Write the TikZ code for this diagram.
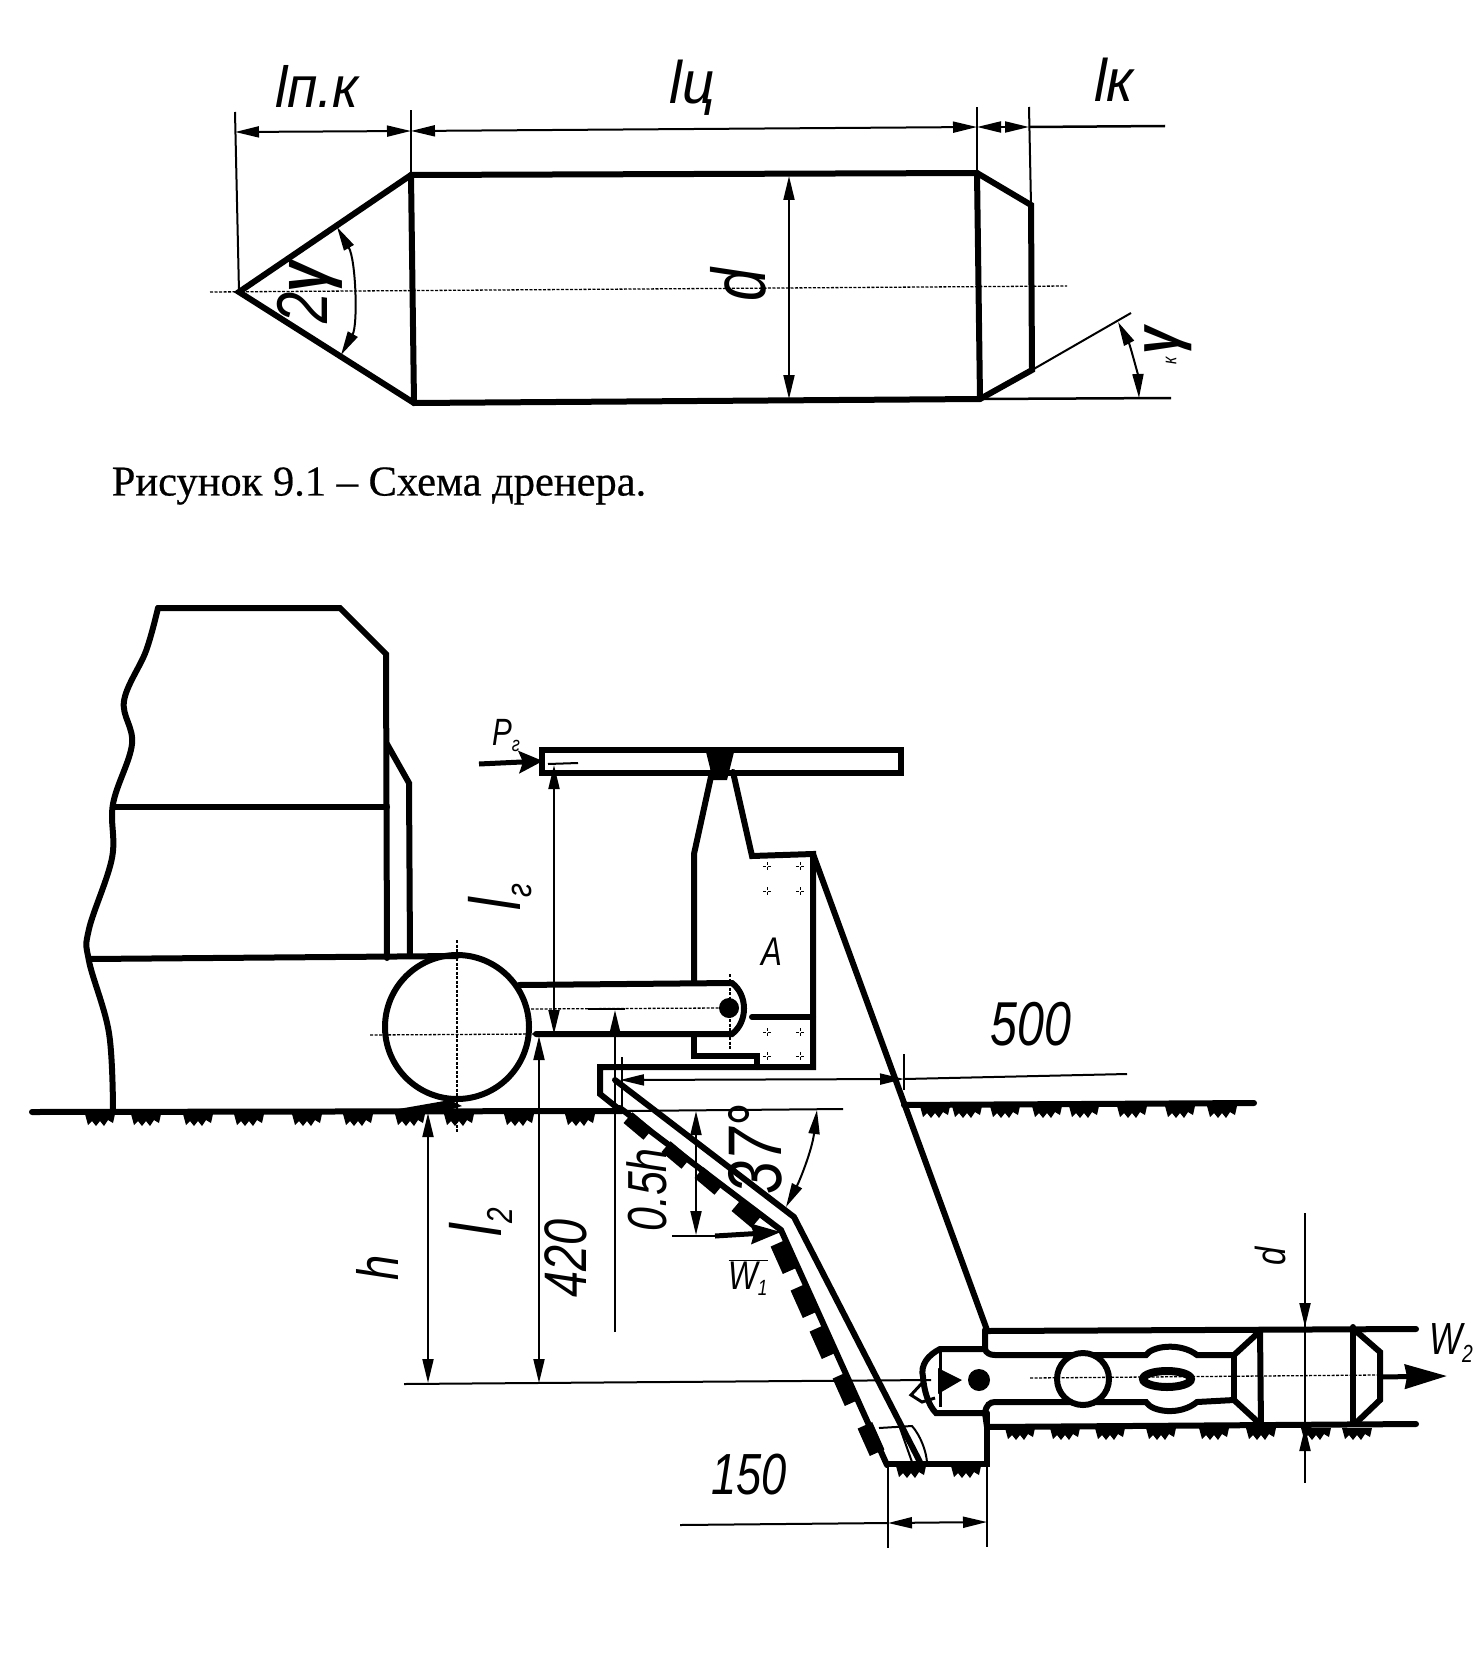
\documentclass[tikz,border=0pt]{standalone}
\usepackage{fontspec}
\usetikzlibrary{arrows.meta}
\setmainfont{Liberation Serif}
\newfontfamily\dfont[FakeStretch=0.78]{Liberation Sans}
\newfontfamily\wfont[FakeStretch=0.95]{Liberation Sans}
\newfontfamily\captfont[FakeBold=0.5]{Liberation Serif}
\newcommand{\lowtxt}[2][.55]{\raisebox{-.3ex}{\scalebox{#1}{#2}}}
\tikzset{
  heavy/.style={line width=6pt,line join=miter,line cap=round},
  thinline/.style={line width=2pt},
  axisline/.style={line width=1.3pt,dash pattern=on 3pt off 1.5pt},
  dimline/.style={thinline,{Stealth[length=24pt,width=11pt,inset=0pt]}-{Stealth[length=24pt,width=11pt,inset=0pt]}},
  dimhead/.style={thinline,-{Stealth[length=24pt,width=11pt,inset=0pt]}},
  label/.style={inner sep=0pt,font=\fontsize{#1}{#1}\selectfont\dfont\itshape},
  widelabel/.style={inner sep=0pt,font=\fontsize{#1}{#1}\selectfont\wfont\itshape},
  tuft/.pic={\fill (-15,-1) -- (15,-1) -- (13,8) -- (8,5) -- (4,11) -- (0,6) -- (-4,11) -- (-8,6) -- (-12,10) -- cycle;},
}
\begin{document}
\begin{tikzpicture}[x=1pt,y=-1pt]
  \useasboundingbox[fill=white] (0,0) rectangle (1472,1672);

  % drainer
  \coordinate (tip) at (239,292);
  \coordinate (bodyTL) at (411,175);
  \coordinate (bodyBL) at (414,403);
  \coordinate (bodyTR) at (977,173);
  \coordinate (bodyBR) at (980,399);
  \coordinate (endT) at (1031,205);
  \coordinate (endB) at (1032,370);
  \draw[axisline] (210,292) -- (1067,286);
  \draw[heavy] (tip) -- (bodyTL) -- (bodyTR) -- (endT) -- (endB) -- (bodyBR) -- (bodyBL) -- cycle;
  \draw[heavy] (bodyTL) -- (bodyBL);
  \draw[heavy] (bodyTR) -- (bodyBR);
  \draw[thinline] (tip) -- (235,112);
  \draw[thinline] (bodyTL) -- (411,110);
  \draw[thinline] (bodyTR) -- (977,107);
  \draw[thinline] (endT) -- (1029,107);
  \draw[dimline] (235,132) -- (411,131);
  \draw[dimline] (411,131) -- (977,127);
  \draw[dimline] (977,127) -- (1029,127);
  \draw[line width=2.5pt] (1029,127) -- (1165,126);
  \draw[dimline] (789,176) -- (789,399);
  \draw[dimline] (337,227) .. controls (356,260) and (358,325) .. (341,355);
  \draw[thinline] (endB) -- (1131,313);
  \draw[line width=2.5pt] (bodyBR) -- (1171,398);
  \draw[dimline] (1118,322) .. controls (1130,345) and (1138,375) .. (1139,398);

  \node[widelabel=58] (lpk) at (317,86) {lп.к};
  \node[widelabel=60] (lc) at (692,88) {lц};
  \node[widelabel=60] (lkk) at (1114,80) {lк};
  \node[label=72,rotate=90] (ang2g) at (310,292) {2\textbf{γ}};
  \node[label=76,rotate=90] (dtop) at (738,285) {d};
  \node[label=64,rotate=90] (angk) at (1168,341) {\textbf{γ}};
  \node[label=20,rotate=90] (angksub) at (1171,361) {к};
  \node[inner sep=0pt,font=\fontsize{42.5}{42.5}\selectfont\captfont] (capt) at (379,486) {Рисунок 9.1 – Схема дренера.};

  % tractor
  \draw[heavy] plot[smooth,tension=.6] coordinates {(158,608) (146,651) (124,701) (132,744) (113,804) (112,858) (89,929) (89,961) (109,1033) (113,1112)};
  \draw[heavy] (158,608) -- (340,608) -- (386,654) -- (387,958);
  \draw[heavy] (113,807) -- (387,807);
  \draw[heavy] (387,744) -- (409,783) -- (410,956);
  \draw[heavy] (89,959) -- (457,956);
  \draw[heavy] (457,1027) circle (72);
  \draw[axisline] (457,940) -- (457,1133);
  \draw[axisline] (370,1035) -- (536,1034);

  % arm and frame
  \draw[heavy] (519,985) -- (732,983) .. controls (748,995) and (748,1022) .. (732,1034) -- (536,1034);
  \fill (729,1008) circle (10);
  \draw[axisline] (531,1009) -- (720,1008);
  \draw[axisline] (730,974) -- (730,1049);
  \draw[heavy] (542,750) rectangle (901,773);
  \fill (706,752) -- (734,752) -- (727,780) -- (713,780) -- cycle;
  \draw[heavy] (712,772) -- (694,854) -- (694,981);
  \draw[heavy] (733,772) -- (752,856) -- (813,854) -- (813,1067) -- (600,1067) -- (600,1094) -- (620,1110);
  \draw[heavy] (813,854) -- (987,1330);
  \draw[heavy] (752,1017) -- (813,1017);
  \draw[heavy] (694,1035) -- (694,1056) -- (757,1056) -- (757,1067);
  \foreach \x in {767,800}
    \foreach \y in {866,891,1032,1056}
      \draw[axisline,line width=1pt] (\x-4,\y) -- (\x+4,\y) (\x,\y-4) -- (\x,\y+4);

  % ground
  \draw[heavy] (32,1112) -- (622,1111);
  \draw[thinline] (622,1111) -- (843,1109);
  \draw[heavy] (904,1105) -- (1254,1103);
  \fill (387,1111) -- (450,1100) -- (462,1106) -- (440,1113) -- cycle;
  \foreach \x in {100,146,198,249,307,358,410,459,519,580}
    \pic at (\x,1115) {tuft};
  \foreach \x in {935,967,1005,1047,1084,1132,1180,1222}
    \pic at (\x,1107) {tuft};
  \foreach \x in {911,966}
    \pic at (\x,1467) {tuft};
  \foreach \x in {1020,1065,1110,1161,1214,1261,1316,1357}
    \pic at (\x,1429) {tuft};

  % plough
  \draw[heavy] (615,1080) -- (794,1217) -- (920,1462);
  \draw[heavy] (620,1108) -- (781,1230) -- (887,1465);
  \draw[heavy] (887,1464) -- (987,1464) -- (987,1413);
  \foreach \x/\y/\a in {638/1126/-40,676/1155/-40,709/1181/-40,746/1214/-40}
    \fill[shift={(\x,\y)},rotate=\a] (-13,-7) rectangle (13,7);
  \foreach \x/\y in {784/1257,804/1301,823/1342,846/1389,871/1439}
    \fill[shift={(\x,\y)},rotate=-66] (-15,-8) rectangle (15,8);
  \draw[thinline] (879,1428) -- (912,1426) .. controls (920,1435) and (926,1450) .. (927,1462);
  \draw[thinline] (900,1428) -- (912,1462);

  % drain pipe and drainer in the trench
  \draw[heavy] (985,1330) -- (985,1349) -- (940,1349) .. controls (928,1355) and (920,1365) .. (923,1377) .. controls (924,1390) and (928,1405) .. (936,1413) -- (985,1413) -- (987,1427);
  \draw[heavy] (987,1331) -- (1416,1329);
  \draw[heavy] (987,1427) -- (1416,1424);
  \draw[heavy] (985,1349) .. controls (986,1353) and (990,1355) .. (995,1355) -- (1146,1355) .. controls (1152,1346) and (1180,1342) .. (1197,1355) -- (1234,1355) -- (1259,1332);
  \draw[heavy] (985,1413) .. controls (986,1405) and (990,1402) .. (995,1402) -- (1146,1402) .. controls (1152,1412) and (1180,1416) .. (1197,1402) -- (1234,1400) -- (1259,1423);
  \draw[heavy] (1234,1355) -- (1234,1400);
  \draw[heavy] (1260,1330) -- (1261,1427);
  \draw[heavy] (1353,1327) -- (1353,1423);
  \draw[heavy] (1357,1332) -- (1380,1352) -- (1380,1400) -- (1357,1422);
  \draw[line width=3pt] (940,1349) -- (940,1407);
  \draw[line width=3pt] (923,1382) -- (911,1395) -- (922,1402) -- (935,1398);
  \fill (938,1368) -- (962,1380) -- (938,1394) -- cycle;
  \fill (979,1380) circle (11);
  \draw[heavy,fill=white] (1083,1379) circle (26);
  \draw[line width=8pt,fill=white] (1167,1379) ellipse (24 and 8);
  \draw[thinline] (404,1384) -- (931,1380);
  \draw[axisline] (1030,1378) -- (1377,1375);
  \draw[line width=5pt,-{Stealth[length=42pt,width=24pt,inset=2pt]}] (1380,1377) -- (1447,1376);

  % dimensions
  \draw[line width=5pt,-{Stealth[length=24pt,width=22pt,inset=4pt]}] (479,764) -- (543,761);
  \draw[thinline] (548,764) -- (578,763);
  \draw[dimline] (554,765) -- (554,1034);
  \draw[thinline] (588,1009) -- (625,1009);
  \draw[dimhead] (615,1332) -- (615,1010);
  \draw[dimline] (539,1036) -- (539,1383);
  \draw[dimline] (428,1113) -- (428,1383);
  \draw[thinline] (622,1057) -- (622,1107);
  \draw[thinline] (904,1054) -- (904,1090);
  \draw[dimline] (620,1080) -- (904,1079);
  \draw[thinline] (904,1079) -- (1127,1074);
  \draw[dimline] (696,1111) -- (696,1235);
  \draw[thinline] (672,1236) -- (715,1236);
  \draw[line width=5pt,-{Stealth[length=30pt,width=20pt,inset=3pt]}] (715,1236) -- (781,1232);
  \draw[dimline] (817,1110) .. controls (812,1150) and (800,1180) .. (786,1207);
  \draw[thinline] (888,1467) -- (888,1548);
  \draw[thinline] (987,1467) -- (987,1547);
  \draw[dimline] (888,1523) -- (987,1522);
  \draw[thinline] (680,1525) -- (888,1523);
  \draw[thinline] (1305,1213) -- (1305,1483);
  \draw[dimhead] (1305,1290) -- (1305,1327);
  \draw[dimhead] (1305,1465) -- (1305,1427);

  \node[label=38] (pg) at (506,736) {P\lowtxt{г}};
  \node[label=72,rotate=90] (lg) at (500,897) {l\lowtxt[.5]{г}};
  \node[label=40] (aa) at (772,952) {A};
  \node[label=62] (d500) at (1031,1024) {500};
  \node[label=76,rotate=90] (a37) at (755,1150) {37°};
  \node[label=55,rotate=90] (h05) at (647,1190) {0.5h};
  \node[label=40] (w1) at (748,1278) {\(\overline{\hbox{W\lowtxt{1}}}\)};
  \node[label=72,rotate=90] (l2) at (481,1222) {l\lowtxt[.5]{2}};
  \node[label=60,rotate=90] (d420) at (566,1258) {420};
  \node[label=58,rotate=90] (hh) at (377,1268) {h};
  \node[label=58] (d150) at (749,1475) {150};
  \node[label=42,rotate=90] (dd) at (1270,1256) {d};
  \node[label=45] (w2) at (1451,1343) {W\lowtxt{2}};
\end{tikzpicture}
\end{document}
